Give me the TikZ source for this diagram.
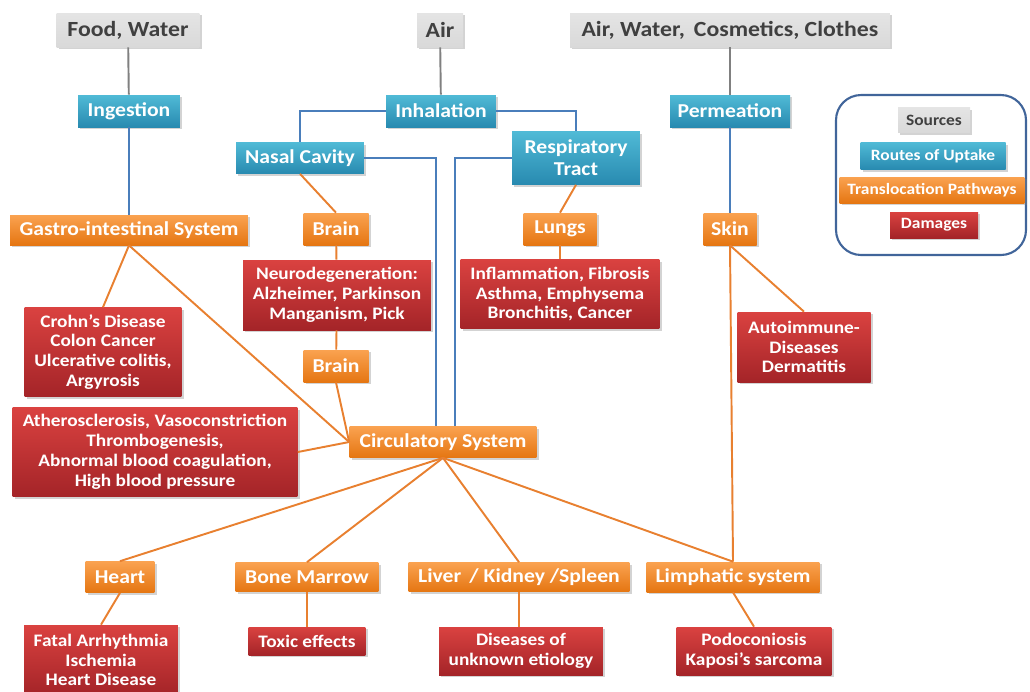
\documentclass[tikz,border=0pt]{standalone}
\usepackage{fontspec}
\setmainfont{Carlito}[FakeStretch=1.1]
\usepackage{tikz}
\usetikzlibrary{shadows, positioning}

\definecolor{srcgray}{RGB}{217, 217, 217}
\definecolor{srctext}{RGB}{64, 64, 64}
\definecolor{routetop}{RGB}{80, 186, 214}
\definecolor{routebot}{RGB}{40, 138, 176}
\definecolor{pathtop}{RGB}{250, 162, 80}
\definecolor{pathbot}{RGB}{229, 118, 18}
\definecolor{dmgtop}{RGB}{218, 66, 64}
\definecolor{dmgbot}{RGB}{164, 36, 40}
\definecolor{linkgray}{RGB}{128, 128, 128}
\definecolor{linkblue}{RGB}{74, 126, 187}
\definecolor{linkorange}{RGB}{232, 128, 48}
\definecolor{legendblue}{RGB}{65, 101, 154}

\tikzset{
  box/.style={inner sep=1pt, align=center, drop shadow={shadow xshift=1.2pt, shadow yshift=-1.2pt, opacity=0.35}},
  source/.style={box, fill=srcgray, top color=srcgray!70, bottom color=srcgray, text=srctext, font=\fontsize{12.3}{14}\selectfont\bfseries},
  route/.style={box, top color=routetop, bottom color=routebot, text=white, font=\fontsize{11.2}{12.5}\selectfont\bfseries},
  pathway/.style={box, top color=pathtop, bottom color=pathbot, text=white, font=\fontsize{11.2}{12.5}\selectfont\bfseries},
  damage/.style={box, top color=dmgtop, bottom color=dmgbot, text=white, font=\fontsize{10}{11.3}\selectfont\bfseries},
  keyfont/.style={font=\fontsize{9}{10}\selectfont\bfseries},
  graylink/.style={draw=linkgray, line width=1.1pt},
  bluelink/.style={draw=linkblue, line width=1.1pt},
  orangelink/.style={draw=linkorange, line width=1.1pt}
}

\begin{document}
\begin{tikzpicture}[x=0.02cm, y=-0.02cm]
  \useasboundingbox (0, 0) rectangle (1030, 691);

  % Legend frame
  \node[draw=legendblue, line width=1.2pt, rounded corners=0.5cm, minimum width=3.8cm, minimum height=3.2cm] (legend) at (931, 175) {};

  % Sources
  \node[source, minimum width=2.86cm, minimum height=0.68cm] (food) at (128, 30) {Food, Water};
  \node[source, minimum width=0.92cm, minimum height=0.68cm] (air) at (440, 30) {Air};
  \node[source, minimum width=6.4cm, minimum height=0.68cm] (airwater) at (730, 30) {Air, Water,\, Cosmetics, Clothes};

  % Routes of uptake
  \node[route, minimum width=2.04cm, minimum height=0.64cm] (ingest) at (129, 111) {Ingestion};
  \node[route, minimum width=2.2cm, minimum height=0.64cm] (inhale) at (441, 111) {Inhalation};
  \node[route, minimum width=2.4cm, minimum height=0.64cm] (perm) at (730, 111) {Permeation};
  \node[route, minimum width=2.56cm, minimum height=0.62cm] (nasal) at (300, 158) {Nasal Cavity};
  \node[route, minimum width=2.56cm, minimum height=1.06cm] (resp) at (576, 158) {Respiratory\\Tract};

  % Translocation pathways
  \node[pathway, minimum width=4.76cm, minimum height=0.6cm] (gastro) at (129, 230) {Gastro-intestinal System};
  \node[pathway, minimum width=1.3cm, minimum height=0.64cm] (brainA) at (336, 229) {Brain};
  \node[pathway, minimum width=1.46cm, minimum height=0.64cm] (lungs) at (560, 229) {Lungs};
  \node[pathway, minimum width=1.06cm, minimum height=0.64cm] (skin) at (730, 229) {Skin};
  \node[pathway, minimum width=1.3cm, minimum height=0.64cm] (brainB) at (336, 366) {Brain};
  \node[pathway, minimum width=3.74cm, minimum height=0.62cm] (circ) at (443, 442) {Circulatory System};
  \node[pathway, minimum width=1.38cm, minimum height=0.62cm] (heart) at (120, 577) {Heart};
  \node[pathway, minimum width=2.86cm, minimum height=0.58cm] (marrow) at (307, 577) {Bone Marrow};
  \node[pathway, minimum width=4.42cm, minimum height=0.58cm] (liver) at (519, 577) {Liver\, / Kidney /Spleen};
  \node[pathway, minimum width=3.46cm, minimum height=0.6cm] (lymph) at (733, 577) {Limphatic system};

  % Damages
  \node[damage, minimum width=3.76cm, minimum height=1.4cm] (neuro) at (337, 295) {Neurodegeneration:\\Alzheimer, Parkinson\\Manganism, Pick};
  \node[damage, minimum width=3.98cm, minimum height=1.38cm] (inflam) at (560, 294) {Inflammation, Fibrosis\\Asthma, Emphysema\\Bronchitis, Cancer};
  \node[damage, minimum width=3.14cm, minimum height=1.78cm] (crohn) at (103, 352) {Crohn's Disease\\Colon Cancer\\Ulcerative colitis,\\Argyrosis};
  \node[damage, minimum width=2.66cm, minimum height=1.4cm] (autoimm) at (804, 347) {Autoimmune-\\Diseases\\Dermatitis};
  \node[damage, minimum width=5.7cm, minimum height=1.78cm] (athero) at (155, 452) {Atherosclerosis, Vasoconstriction\\Thrombogenesis,\\Abnormal blood coagulation,\\High blood pressure};
  \node[damage, minimum width=3.08cm, minimum height=1.4cm] (fatal) at (101, 660) {Fatal Arrhythmia\\Ischemia\\Heart Disease};
  \node[damage, minimum width=2.34cm, minimum height=0.56cm] (toxic) at (307, 641) {Toxic effects};
  \node[damage, minimum width=3.28cm, minimum height=0.96cm] (unknown) at (521, 651) {Diseases of\\unknown etiology};
  \node[damage, minimum width=3.1cm, minimum height=0.96cm] (podo) at (754, 651) {Podoconiosis\\Kaposi's sarcoma};

  % Legend entries
  \node[source, keyfont, minimum width=1.44cm, minimum height=0.5cm] (keysrc) at (934, 120) {Sources};
  \node[route, keyfont, minimum width=2.9cm, minimum height=0.54cm] (keyroute) at (933, 156) {Routes of Uptake};
  \node[pathway, keyfont, minimum width=3.7cm, minimum height=0.52cm] (keypath) at (932, 190) {Translocation Pathways};
  \node[damage, keyfont, minimum width=1.76cm, minimum height=0.52cm] (keydmg) at (934, 225) {Damages};

  % Sources to routes
  \draw[graylink] (food) -- (ingest);
  \draw[graylink] (air) -- (inhale);
  \draw[graylink] (airwater) -- (perm);

  % Routes
  \draw[bluelink] (ingest) -- (gastro);
  \draw[bluelink] (inhale.west) -| (nasal.north);
  \draw[bluelink] (inhale.east) -| (resp.north);
  \draw[bluelink] (nasal.east) -| ([xshift=-0.14cm]circ.north);
  \draw[bluelink] (resp.west) -| ([xshift=0.24cm]circ.north);
  \draw[bluelink] (perm) -- (skin);

  % Pathways and damages
  \draw[orangelink] (nasal.south) -- (brainA.north);
  \draw[orangelink] (brainA) -- (neuro);
  \draw[orangelink] (neuro) -- (brainB);
  \draw[orangelink] (brainB.south) -- (circ.west);
  \draw[orangelink] (gastro.south) -- (crohn.north);
  \draw[orangelink] (gastro.south) -- (circ.west);
  \draw[orangelink] (athero.east) -- (circ.west);
  \draw[orangelink] (resp.south) -- (lungs.north);
  \draw[orangelink] (lungs) -- (inflam);
  \draw[orangelink] (skin.south) -- (autoimm.north);
  \draw[orangelink] (skin.south) -- (lymph.north);
  \foreach \organ in {heart, marrow, liver, lymph}
    \draw[orangelink] (circ.south) -- (\organ.north);
  \draw[orangelink] (heart.south) -- (fatal.north);
  \draw[orangelink] (marrow.south) -- (toxic.north);
  \draw[orangelink] (liver.south) -- (liver.south |- unknown.north);
  \draw[orangelink] (lymph.south) -- (podo.north);
\end{tikzpicture}
\end{document}
